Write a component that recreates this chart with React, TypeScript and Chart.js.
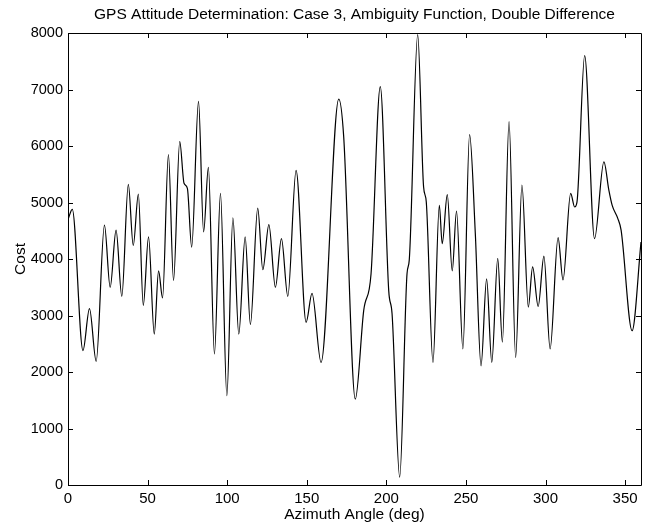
import React, { useEffect, useRef } from "react";
import { Chart, registerables } from "chart.js";

Chart.register(...registerables);

const TITLE = "GPS Attitude Determination: Case 3, Ambiguity Function, Double Difference";
const X_LABEL = "Azimuth Angle (deg)";
const Y_LABEL = "Cost";

const angles = [
  0, 2.7, 9.4, 13.5, 17.7, 22.9, 26.5, 30.2, 33.8, 37.9, 41, 44.2, 47.3, 50.6, 54.2, 56.9, 59.4,
  63.1, 66.3, 70.2, 72.9, 75, 77.7, 82, 85.2, 88.2, 92, 95.8, 99.8, 103.6, 107.3, 111.3, 114.6,
  119.2, 122.4, 126.2, 130.3, 134.1, 138.1, 143.3, 149.6, 153.3, 159, 170.1, 173.2, 180.5, 185.8,
  190.4, 196.2, 201.5, 203.6, 208.4, 213, 214.4, 219.7, 223.4, 225.1, 229.3, 233.3, 235.1, 238.3,
  241.4, 244.1, 248.1, 252.3, 255.9, 259.5, 263, 266.25, 270, 272.9, 277.1, 281.25, 285.2, 289.2,
  291.9, 295.4, 299, 302.9, 307.9, 311, 315.8, 318.3, 319.8, 324.6, 330.8, 336.7, 339.8, 341.9,
  345.4, 347.5, 354.4, 360,
];

const costs = [
  4700, 4880, 2380, 3120, 2190, 4600, 3500, 4510, 3340, 5320, 4240, 5150, 3180, 4390, 2670, 3790, 3310,
  5850, 3620, 6080, 5340, 5250, 4210, 6790, 4480, 5620, 2320, 5160, 1580, 4730, 2670, 4390, 2840,
  4900, 3810, 4610, 3500, 4360, 3340, 5570, 2880, 3390, 2170, 6830, 6170, 1520, 3090,
  3740, 7050, 3440, 3030, 140, 3740, 3980, 7970, 5280, 5010, 2170, 4950, 4270, 5140,
  3790, 4850, 2410, 6200, 4450, 2110, 3650, 2170, 4010, 2530, 6430, 2260, 5310, 3150,
  3860, 3160, 4050, 2410, 4380, 3630, 5160, 4920, 5010, 7600, 4360, 5720, 5220, 4950,
  4720, 4510, 2730, 4300,
];

const X_TICKS = [0, 50, 100, 150, 200, 250, 300, 350];
const Y_TICKS = [0, 1000, 2000, 3000, 4000, 5000, 6000, 7000, 8000];

const FONT = "'Liberation Sans', Arial, Helvetica, sans-serif";

const framePlugin = {
  id: "frame",
  afterDraw(chart: any) {
    const { ctx, chartArea: a, scales } = chart;
    const xs = scales.x;
    const ys = scales.y;
    const tl = 5;
    ctx.save();
    ctx.strokeStyle = "#000";
    ctx.lineWidth = 1;
    ctx.beginPath();
    ctx.rect(Math.round(a.left) + 0.5, Math.round(a.top) + 0.5, Math.round(a.right - a.left), Math.round(a.bottom - a.top));
    ctx.stroke();
    ctx.beginPath();
    X_TICKS.forEach((v) => {
      const px = Math.round(xs.getPixelForValue(v)) + 0.5;
      ctx.moveTo(px, a.bottom);
      ctx.lineTo(px, a.bottom - tl);
      ctx.moveTo(px, a.top);
      ctx.lineTo(px, a.top + tl);
    });
    Y_TICKS.forEach((v) => {
      const py = Math.round(ys.getPixelForValue(v)) + 0.5;
      ctx.moveTo(a.left, py);
      ctx.lineTo(a.left + tl, py);
      ctx.moveTo(a.right, py);
      ctx.lineTo(a.right - tl, py);
    });
    ctx.stroke();
    ctx.fillStyle = "#000";
    ctx.font = `15.5px ${FONT}`;
    ctx.textAlign = "center";
    ctx.textBaseline = "alphabetic";
    ctx.fillText(TITLE, (a.left + a.right) / 2, 19);
    ctx.restore();
  },
};

export default function App() {
  const ref = useRef<HTMLCanvasElement | null>(null);
  useEffect(() => {
    document.body.style.margin = "0";
    const canvas = ref.current;
    if (!canvas) return;
    const chart = new Chart(canvas, {
      type: "line",
      data: {
        datasets: [
          {
            data: angles.map((x, i) => ({ x, y: costs[i] })),
            borderColor: "#000",
            borderWidth: 1.2,
            pointRadius: 0,
            fill: false,
            cubicInterpolationMode: "monotone",
          },
        ],
      },
      options: {
        animation: false,
        responsive: false,
        devicePixelRatio: 1,
        layout: { padding: { left: 0, top: 33, right: 9, bottom: 0 } },
        plugins: { legend: { display: false }, tooltip: { enabled: false }, title: { display: false } },
        scales: {
          x: {
            type: "linear",
            min: 0,
            max: 360,
            afterFit: (s: any) => {
              s.height = 44;
            },
            afterBuildTicks: (s: any) => {
              s.ticks = X_TICKS.map((v) => ({ value: v }));
            },
            grid: { display: false, drawTicks: false },
            border: { display: false },
            ticks: {
              color: "#000",
              padding: 5,
              font: { family: FONT, size: 15 },
              maxRotation: 0,
              autoSkip: false,
              callback: (v: any) => String(v),
            },
            title: { display: true, text: X_LABEL, color: "#000", font: { family: FONT, size: 15.5 }, padding: { top: 0, bottom: 5 } },
          },
          y: {
            type: "linear",
            min: 0,
            max: 8000,
            afterFit: (s: any) => {
              s.width = 68;
            },
            afterBuildTicks: (s: any) => {
              s.ticks = Y_TICKS.map((v) => ({ value: v }));
            },
            grid: { display: false, drawTicks: false },
            border: { display: false },
            ticks: {
              color: "#000",
              padding: 5,
              font: { family: FONT, size: 14.5 },
              autoSkip: false,
              callback: (v: any) => String(v),
            },
            title: { display: true, text: Y_LABEL, color: "#000", font: { family: FONT, size: 15.5 }, padding: { top: 11, bottom: 0 } },
          },
        },
      },
      plugins: [framePlugin],
    });
    return () => chart.destroy();
  }, []);
  return (
    <div style={{ position: "absolute", left: 0, top: 0, width: 650, height: 529, background: "#fff" }}>
      <canvas ref={ref} width={650} height={529} style={{ width: 650, height: 529 }} />
    </div>
  );
}
